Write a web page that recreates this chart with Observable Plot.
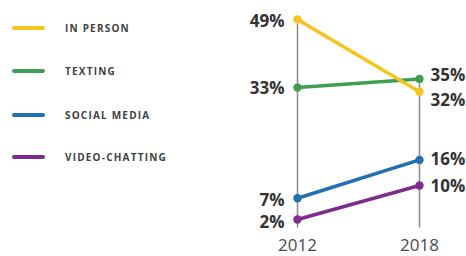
<!DOCTYPE html>
<html>
<head>
<meta charset="utf-8">
<script src="https://cdn.jsdelivr.net/npm/d3@7"></script>
<script src="https://cdn.jsdelivr.net/npm/@observablehq/plot@0.6"></script>
<style>
  html, body { margin: 0; padding: 0; background: #fff; }
  #wrap { position: relative; width: 466px; height: 256px; }
  #legend { position: absolute; left: 0; top: 0; width: 220px; height: 256px; }
  .item { position: absolute; left: 12px; display: flex; align-items: center; white-space: nowrap; font-family: "Open Sans", sans-serif; font-weight: 700; font-size: 10px; color: #3f3f3f; letter-spacing: 1.2px; }
  .swatch { width: 33px; height: 4px; border-radius: 2px; margin-right: 20px; flex: none; }
  #chart { position: absolute; left: 0; top: 0; }
</style>
</head>
<body>
<div id="wrap">
  <div id="chart"></div>
  <div id="legend"></div>
</div>
<script>
const years = [2012, 2018];
const series = ["IN PERSON", "TEXTING", "SOCIAL MEDIA", "VIDEO-CHATTING"];
const colors = ["#F6C41F", "#3F9E50", "#2070B2", "#7E2C8C"];
const inPerson = [49, 32];
const texting = [33, 35];
const socialMedia = [7, 16];
const videoChatting = [2, 10];
const labelDy = [[2, 9], [1, -4], [2, 0], [3, 1]];

const values = [inPerson, texting, socialMedia, videoChatting];
const rows = [];
series.forEach((s, i) => years.forEach((yr, j) => rows.push({series: s, year: yr, value: values[i][j], dy: labelDy[i][j], order: i, side: j})));
const maxByYear = years.map((yr, j) => ({year: yr, top: d3.max(values, v => v[j])}));

const drawOrder = [1, 2, 3, 0];
const lineMarks = [];
drawOrder.forEach(i => {
  const d = rows.filter(r => r.order === i);
  lineMarks.push(Plot.line(d, {x: "year", y: "value", stroke: colors[i], strokeWidth: 3.5, strokeLinecap: "round"}));
  lineMarks.push(Plot.dot(d, {x: "year", y: "value", fill: colors[i], r: 4.2}));
});

const textMarks = rows.map(r => Plot.text([r], {
  x: "year", y: "value", text: d => d.value + "%",
  textAnchor: r.side === 0 ? "end" : "start",
  dx: r.side === 0 ? -13 : 11,
  dy: r.dy,
  fontSize: 17, fontWeight: 700, fill: "#333"
}));

const chart = Plot.plot({
  width: 466,
  height: 256,
  marginLeft: 297,
  marginRight: 47,
  marginTop: 19,
  marginBottom: 28.5,
  x: {domain: years, type: "linear", label: null},
  y: {domain: [0, 49], axis: null},
  style: {fontFamily: "Open Sans, sans-serif", background: "#fff"},
  marks: [
    Plot.ruleX(maxByYear, {x: "year", y1: 0, y2: "top", stroke: "#8a8a8a", strokeWidth: 1.5, insetBottom: -5}),
    Plot.axisX({ticks: years, tickFormat: d => String(d), tickSize: 0, tickPadding: 11, fontSize: 17, fill: "#4a4a4a", label: null}),
    ...lineMarks,
    ...textMarks
  ]
});
document.getElementById("chart").appendChild(chart);

const legendTops = [28, 71, 115, 157];
const legend = document.getElementById("legend");
series.forEach((s, i) => {
  const item = document.createElement("div");
  item.className = "item";
  item.style.top = (legendTops[i] - 8) + "px";
  item.style.height = "16px";
  const sw = document.createElement("div");
  sw.className = "swatch";
  sw.style.background = colors[i];
  const t = document.createElement("span");
  t.textContent = s;
  item.appendChild(sw);
  item.appendChild(t);
  legend.appendChild(item);
});
</script>
</body>
</html>
